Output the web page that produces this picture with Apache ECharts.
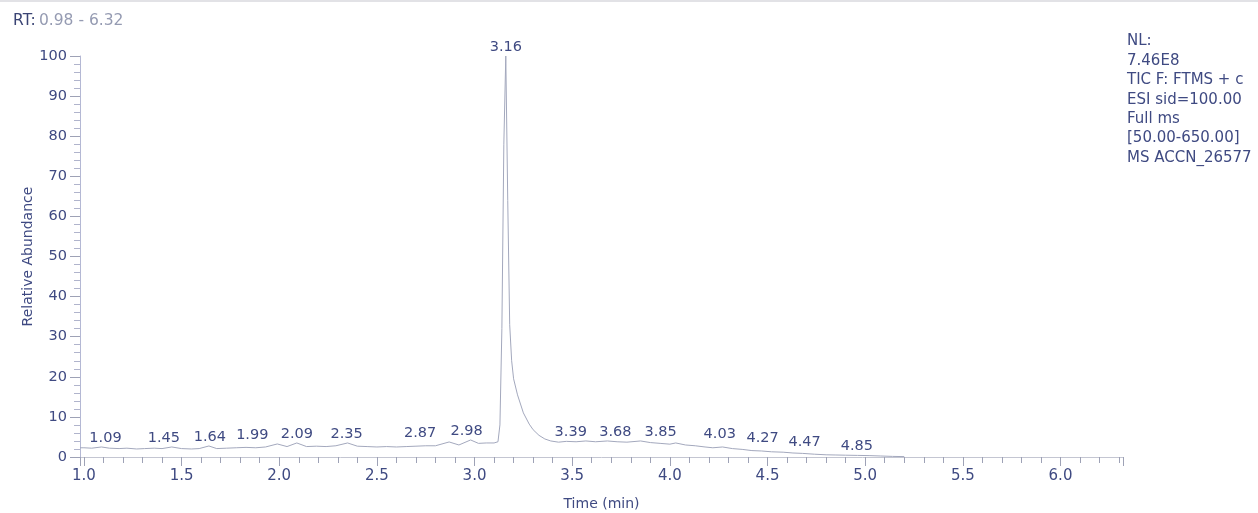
<!DOCTYPE html>
<html>
<head>
<meta charset="utf-8">
<script src="https://cdn.jsdelivr.net/npm/echarts@6/dist/echarts.min.js"></script>
<style>
  html, body { margin: 0; padding: 0; background: #ffffff; }
  #chart { width: 1258px; height: 513px; }
</style>
</head>
<body>
<div id="chart"></div>
<script>
// Total ion chromatogram trace: retention time (min) and relative abundance (%)
const traceTimes = [
  0.98, 1.00, 1.04, 1.09, 1.13, 1.18, 1.22, 1.27, 1.31, 1.36, 1.40, 1.45, 1.50, 1.55, 1.59, 1.64,
  1.68, 1.73, 1.78, 1.83, 1.88, 1.93, 1.99, 2.04, 2.09, 2.14, 2.19, 2.24, 2.29, 2.35, 2.40, 2.45,
  2.50, 2.55, 2.60, 2.65, 2.70, 2.75, 2.80, 2.87, 2.92, 2.98, 3.02, 3.06, 3.10, 3.12, 3.13, 3.14,
  3.15, 3.16, 3.17, 3.18, 3.19, 3.20, 3.22, 3.25, 3.28, 3.30, 3.33, 3.36, 3.39, 3.43, 3.47, 3.52,
  3.57, 3.62, 3.68, 3.73, 3.78, 3.85, 3.90, 3.95, 4.00, 4.03, 4.08, 4.13, 4.18, 4.22, 4.27, 4.32,
  4.37, 4.42, 4.47, 4.52, 4.58, 4.63, 4.68, 4.74, 4.80, 4.85, 4.90, 4.96, 5.02, 5.08, 5.14, 5.20
];
const traceAbundance = [
  2.3, 2.3, 2.2, 2.5, 2.2, 2.1, 2.2, 2.0, 2.1, 2.2, 2.1, 2.5, 2.1, 2.0, 2.1, 2.75,
  2.1, 2.2, 2.3, 2.4, 2.3, 2.5, 3.25, 2.6, 3.5, 2.6, 2.7, 2.6, 2.8, 3.5, 2.7, 2.6,
  2.5, 2.6, 2.5, 2.6, 2.7, 2.8, 2.8, 3.75, 3.0, 4.25, 3.4, 3.5, 3.5, 3.8, 8.0, 32,
  78, 100, 64, 33, 24, 19.5, 15.5, 11, 8.2, 6.8, 5.4, 4.5, 4.0, 3.7, 3.9, 3.8,
  4.0, 3.8, 4.0, 3.8, 3.7, 4.0, 3.6, 3.4, 3.2, 3.5, 3.0, 2.8, 2.5, 2.3, 2.5, 2.1,
  1.9, 1.6, 1.5, 1.3, 1.2, 1.0, 0.9, 0.7, 0.55, 0.5, 0.45, 0.4, 0.35, 0.25, 0.15, 0.1
];
// Retention times of the annotated peaks
const peakTimes = [1.09, 1.45, 1.64, 1.99, 2.09, 2.35, 2.87, 2.98, 3.16, 3.39, 3.68, 3.85, 4.03, 4.27, 4.47, 4.85];

// Header and scan information
const rangeLabel = 'RT:';
const rangeValue = '0.98 - 6.32';
const infoLines = ['NL:', '7.46E8', 'TIC F: FTMS + c', 'ESI sid=100.00', 'Full ms', '[50.00-650.00]', 'MS ACCN_26577'];
const xAxisMin = 0.98;
const xAxisMax = 6.32;
const xAxisTitle = 'Time (min)';
const yAxisTitle = 'Relative Abundance';

// Layout: horizontal nudges (px) that keep neighbouring peak labels apart
const peakLabelNudge = [4, -8, 1, -25, 0, -1, -29, -4, 0, 20, 8, 20, 44, 40, 43, 21];

const FONT = 'DejaVu Sans';
const LABEL_COLOR = '#3f4a82';

const traceData = traceTimes.map((t, i) => [t, traceAbundance[i]]);
const peakData = peakTimes.map(t => [t, traceAbundance[traceTimes.indexOf(t)]]);

const infoGraphics = infoLines.map((line, i) => ({
  type: 'text',
  left: 1127,
  top: 34 + i * 19.4,
  style: { text: line, font: '15px "' + FONT + '"', fill: LABEL_COLOR }
}));

const chart = echarts.init(document.getElementById('chart'), null, { renderer: 'canvas' });
chart.setOption({
  animation: false,
  backgroundColor: '#ffffff',
  grid: { left: 80, right: 135, top: 56, bottom: 56, containLabel: false, outerBoundsMode: 'none' },
  xAxis: {
    type: 'value',
    min: xAxisMin,
    max: xAxisMax,
    splitNumber: 10,
    name: xAxisTitle,
    nameLocation: 'middle',
    nameGap: 40,
    nameMoveOverlap: false,
    nameTextStyle: { fontFamily: FONT, fontSize: 14, color: LABEL_COLOR },
    axisLine: { show: true, onZero: false, lineStyle: { color: '#c4c6d2', width: 1 } },
    axisTick: { show: true, length: 9, lineStyle: { color: '#9ea2b6' } },
    minorTick: { show: true, splitNumber: 5, length: 6, lineStyle: { color: '#9ea2b6' } },
    axisLabel: {
      fontFamily: FONT, fontSize: 15, color: LABEL_COLOR, margin: 12,
      showMinLabel: false, showMaxLabel: false,
      formatter: v => v.toFixed(1)
    },
    splitLine: { show: false }
  },
  yAxis: {
    type: 'value',
    min: 0,
    max: 100,
    interval: 10,
    name: yAxisTitle,
    nameLocation: 'middle',
    nameGap: 45,
    nameMoveOverlap: false,
    nameTextStyle: { fontFamily: FONT, fontSize: 14, color: LABEL_COLOR },
    axisLine: { show: true, lineStyle: { color: '#b4b8d4', width: 1 } },
    axisTick: { show: true, length: 10, lineStyle: { color: '#9ea2b6' } },
    minorTick: { show: true, splitNumber: 5, length: 6, lineStyle: { color: '#b0b4cc' } },
    axisLabel: { fontFamily: FONT, fontSize: 14.5, color: LABEL_COLOR, margin: 13 },
    splitLine: { show: false }
  },
  graphic: [
    { type: 'rect', left: 0, top: 0, shape: { width: 1258, height: 2 }, style: { fill: '#e2e2e6' } },
    {
      type: 'text', left: 13, top: 13,
      style: {
        text: '{a|' + rangeLabel + '} {b|' + rangeValue + '}',
        rich: {
          a: { fontFamily: FONT, fontSize: 15.5, fill: '#3a4474' },
          b: { fontFamily: FONT, fontSize: 15.5, fill: '#959bb2' }
        }
      }
    },
    ...infoGraphics
  ],
  series: [
    {
      name: 'TIC',
      type: 'line',
      data: traceData,
      showSymbol: false,
      symbol: 'none',
      smooth: false,
      lineStyle: { color: '#a3a8bd', width: 1 },
      z: 2
    },
    {
      name: 'Peaks',
      type: 'scatter',
      data: peakData,
      symbolSize: 0,
      silent: true,
      itemStyle: { opacity: 1 },
      label: {
        show: true,
        position: 'top',
        distance: 1.5,
        fontFamily: FONT,
        fontSize: 14.5,
        color: LABEL_COLOR,
        formatter: p => p.value[0].toFixed(2)
      },
      labelLayout: p => ({ dx: peakLabelNudge[p.dataIndex], hideOverlap: false }),
      z: 3
    }
  ]
});
</script>
</body>
</html>
